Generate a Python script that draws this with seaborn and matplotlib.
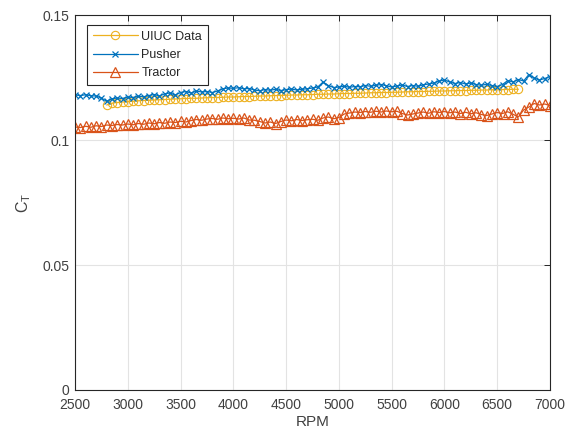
import numpy as np
import pandas as pd
import matplotlib
matplotlib.use("Agg")
import matplotlib.pyplot as plt
import seaborn as sns

# ---------------- data ----------------
rpm_uiuc = np.arange(2800, 6701, 50)
ct_uiuc = [
    .1140, .1147, .1150, .1152, .1154, .1155, .1157, .1158, .1159, .1160,
    .1161, .1162, .1163, .1164, .1165, .1166, .1167, .1167, .1168, .1169,
    .1170, .1170, .1171, .1172, .1172, .1173, .1174, .1174, .1175, .1176,
    .1176, .1177, .1178, .1178, .1179, .1180, .1180, .1181, .1181, .1182,
    .1183, .1183, .1184, .1184, .1185, .1186, .1186, .1187, .1187, .1188,
    .1189, .1189, .1190, .1190, .1191, .1191, .1192, .1193, .1193, .1194,
    .1194, .1195, .1195, .1196, .1196, .1197, .1197, .1198, .1198, .1199,
    .1199, .1200, .1200, .1201, .1201, .1202, .1202, .1203, .1203,
]

rpm_test = np.arange(2500, 7001, 50)
ct_pusher = [
    .1180, .1178, .1181, .1177, .1176, .1168, .1155, .1165, .1168, .1166,
    .1172, .1170, .1175, .1173, .1178, .1182, .1176, .1185, .1188, .1180,
    .1190, .1194, .1188, .1196, .1192, .1194, .1190, .1196, .1205, .1208,
    .1207, .1209, .1205, .1206, .1200, .1197, .1202, .1199, .1203, .1198,
    .1201, .1204, .1200, .1203, .1205, .1208, .1212, .1232, .1218, .1210,
    .1212, .1215, .1211, .1214, .1213, .1218, .1215, .1219, .1222, .1217,
    .1212, .1216, .1220, .1214, .1218, .1215, .1221, .1224, .1228, .1236,
    .1240, .1232, .1226, .1230, .1224, .1228, .1222, .1219, .1223, .1218,
    .1214, .1222, .1238, .1232, .1242, .1236, .1262, .1248, .1240, .1246,
    .1254,
]
ct_tractor = [
    .1052, .1050, .1055, .1051, .1057, .1054, .1060, .1058, .1062, .1060,
    .1064, .1061, .1066, .1063, .1068, .1065, .1070, .1067, .1072, .1070,
    .1075, .1072, .1078, .1082, .1079, .1084, .1086, .1083, .1088, .1085,
    .1087, .1084, .1088, .1080, .1079, .1074, .1068, .1072, .1066, .1074,
    .1080, .1077, .1082, .1078, .1081, .1083, .1079, .1088, .1092, .1085,
    .1090, .1104, .1108, .1112, .1110, .1114, .1111, .1115, .1112, .1116,
    .1113, .1115, .1106, .1100, .1104, .1108, .1112, .1107, .1113, .1110,
    .1114, .1109, .1112, .1106, .1111, .1105, .1109, .1102, .1098, .1104,
    .1110, .1106, .1113, .1103, .1092, .1120, .1132, .1146, .1140, .1144,
    .1138,
]

series_names = ["UIUC Data", "Pusher", "Tractor"]
colors = ["#EDB120", "#0072BD", "#D95319"]

x_ticks = [2500, 3000, 3500, 4000, 4500, 5000, 5500, 6000, 6500, 7000]
y_ticks = [0, 0.05, 0.1, 0.15]
y_tick_labels = ["0", "0.05", "0.1", "0.15"]

# ---------------- plot ----------------
sns.set_style("white")
plt.rcParams["font.family"] = ["Liberation Sans", "DejaVu Sans"]

fig = plt.figure(figsize=(5.74, 4.34), dpi=100)
ax = fig.add_axes([0.1307, 0.1014, 0.8275, 0.864])

df_u = pd.DataFrame({"rpm": rpm_uiuc, "ct": ct_uiuc})
df_p = pd.DataFrame({"rpm": rpm_test, "ct": ct_pusher})
df_t = pd.DataFrame({"rpm": rpm_test, "ct": ct_tractor})

sns.lineplot(data=df_u, x="rpm", y="ct", ax=ax, color=colors[0], lw=0.9,
             marker="o", markersize=6, markerfacecolor="none",
             markeredgecolor=colors[0], markeredgewidth=0.8, label=series_names[0])
sns.lineplot(data=df_p, x="rpm", y="ct", ax=ax, color=colors[1], lw=0.9,
             marker="x", markersize=5, markeredgecolor=colors[1],
             markeredgewidth=0.9, label=series_names[1])
sns.lineplot(data=df_t, x="rpm", y="ct", ax=ax, color=colors[2], lw=0.9,
             marker="^", markersize=6.5, markerfacecolor="none",
             markeredgecolor=colors[2], markeredgewidth=0.9, label=series_names[2])

ax.set_xlim(2500, 7000)
ax.set_ylim(0, 0.15)
ax.set_xticks(x_ticks)
ax.set_xticklabels([str(v) for v in x_ticks])
ax.set_yticks(y_ticks)
ax.set_yticklabels(y_tick_labels)

ax.grid(True, color="#e3e3e3", linewidth=0.8)
ax.set_axisbelow(True)
for s in ax.spines.values():
    s.set_visible(True)
    s.set_color("#262626")
    s.set_linewidth(0.8)

ax.tick_params(axis="both", which="both", direction="in", length=4, width=0.7,
               top=True, right=True, labelsize=10, colors="#262626",
               labelcolor="#404040")
ax.tick_params(axis="x", pad=6)
ax.tick_params(axis="y", pad=4)

ax.set_xlabel("RPM", fontsize=11, color="#404040", labelpad=2)
ax.set_ylabel(r"C$_\mathregular{T}$", fontsize=11.5, color="#404040", labelpad=7)

leg = ax.legend(loc="upper left", bbox_to_anchor=(0.025, 0.973), fontsize=9,
                frameon=True, fancybox=False, edgecolor="#262626",
                handlelength=3.6, borderpad=0.45, labelspacing=0.5,
                handletextpad=0.3, borderaxespad=0.0)
leg.get_frame().set_linewidth(0.8)
leg.get_frame().set_alpha(1)

fig.savefig("out.png", dpi=100)
